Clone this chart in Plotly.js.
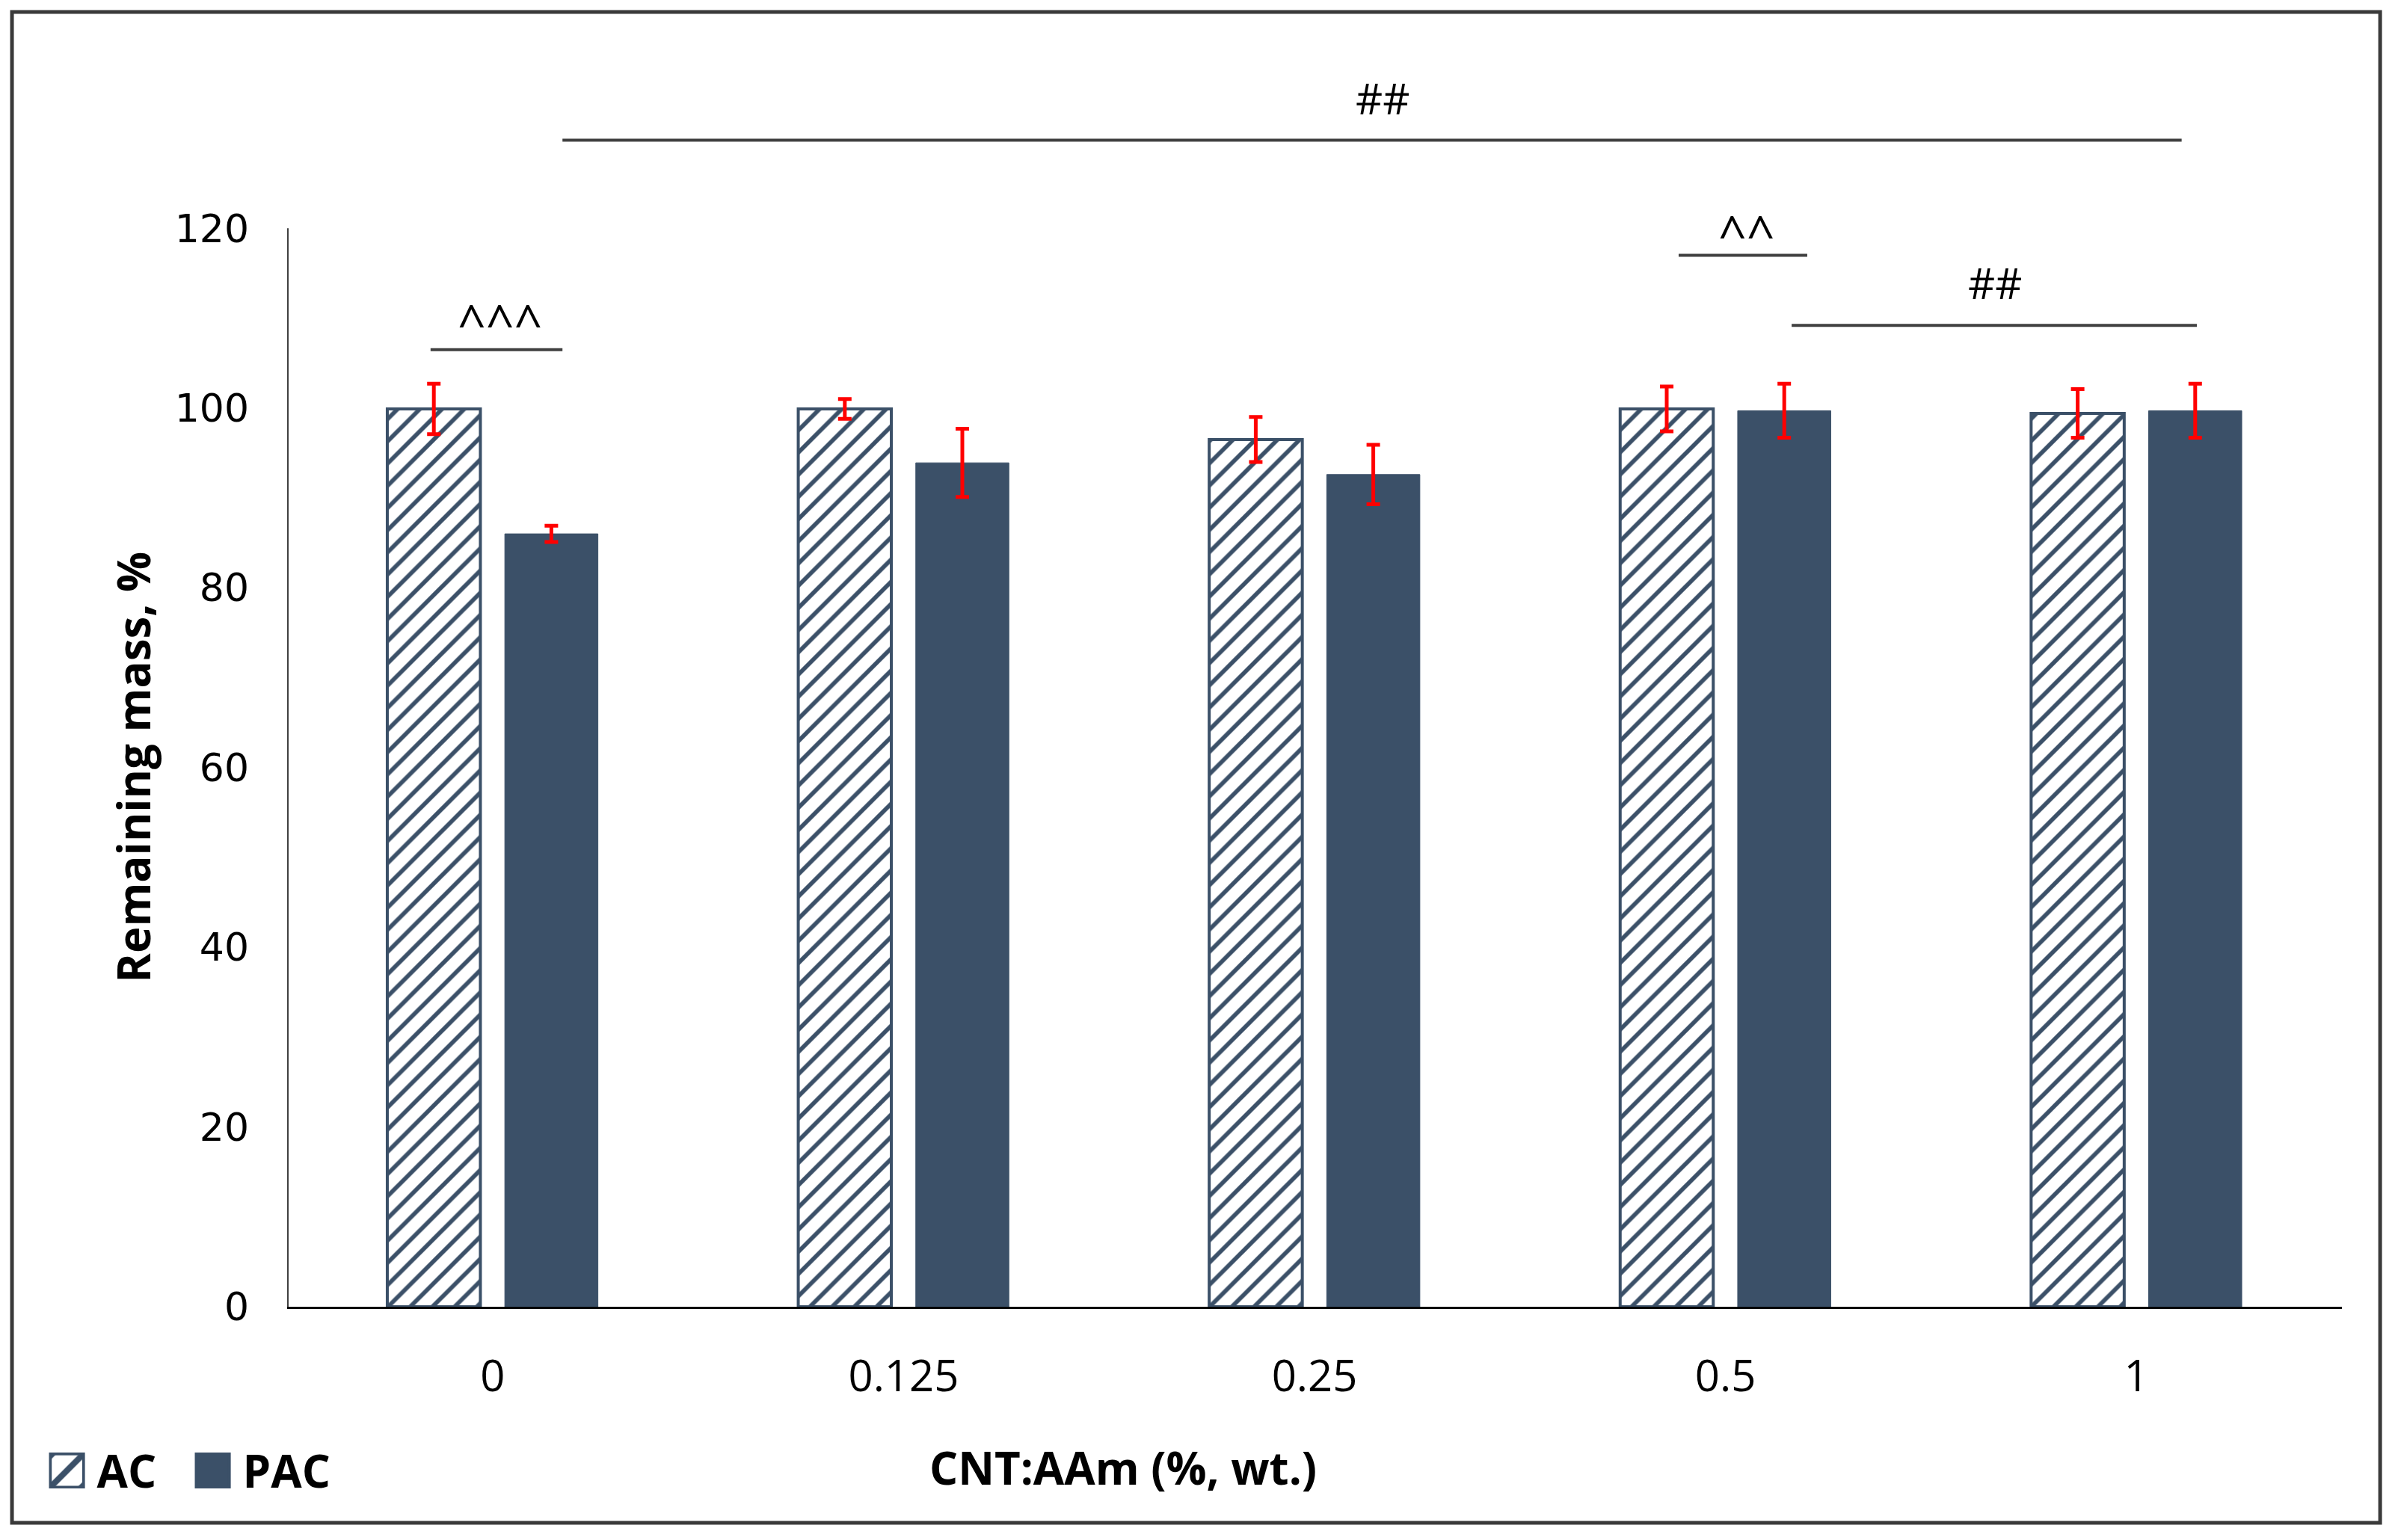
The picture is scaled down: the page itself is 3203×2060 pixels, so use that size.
<!DOCTYPE html>
<html>
<head>
<meta charset="utf-8">
<script src="https://cdn.plot.ly/plotly-3.0.1.min.js"></script>
<style>
html,body{margin:0;padding:0;background:#fff;}
#chart{width:3203px;height:2060px;}
</style>
</head>
<body>
<div id="chart"></div>
<script>
const categories = ['0', '0.125', '0.25', '0.5', '1'];
const acValues  = [99.9, 99.9, 96.5, 99.9, 99.4];
const acErrors  = [2.8, 1.1, 2.5, 2.5, 2.7];
const pacValues = [86.0, 93.9, 92.6, 99.7, 99.7];
const pacErrors = [0.9, 3.8, 3.3, 3.0, 3.0];
const yTicks = [0, 20, 40, 60, 80, 100, 120];
const seriesNames = ['AC', 'PAC'];
const xTitle = 'CNT:AAm (%, wt.)';
const yTitle = 'Remaining mass, %';

const barColor = '#3b5068';
const errColor = '#ff0000';

const traces = [
  {
    type: 'bar', name: seriesNames[0], x: categories, y: acValues,
    marker: {
      color: '#ffffff',
      line: {color: barColor, width: 4},
      pattern: {shape: '/', fgcolor: barColor, bgcolor: '#ffffff', size: 21, solidity: 0.27}
    },
    error_y: {type: 'data', array: acErrors, visible: true, color: errColor, thickness: 5, width: 9}
  },
  {
    type: 'bar', name: seriesNames[1], x: categories, y: pacValues,
    marker: {color: barColor, line: {color: barColor, width: 1}},
    error_y: {type: 'data', array: pacErrors, visible: true, color: errColor, thickness: 5, width: 9}
  }
];

const sigFont = {family: 'Open Sans, sans-serif', size: 56, color: '#000'};
const caretFont = {family: 'Open Sans, sans-serif', size: 66, color: '#000'};
const sigLine = {color: '#404040', width: 4};
const boldFont = {family: 'Open Sans, sans-serif', size: 60, color: '#000', weight: 'bold'};

const layout = {
  width: 3203, height: 2060,
  margin: {l: 384, r: 71, t: 101, b: 312},
  paper_bgcolor: '#ffffff', plot_bgcolor: '#ffffff',
  barmode: 'group', bargap: 0.428, bargroupgap: 0.208,
  showlegend: true,
  legend: {
    orientation: 'h', x: -0.1217, y: -0.133, xanchor: 'left', yanchor: 'middle',
    font: boldFont,
    bgcolor: 'rgba(0,0,0,0)', itemwidth: 70, entrywidth: 110, entrywidthmode: 'pixels', tracegroupgap: 0
  },
  xaxis: {
    type: 'category', range: [-0.5, 4.5], showgrid: false, zeroline: false,
    showline: true, linecolor: '#000000', linewidth: 3, ticks: '',
    tickfont: {family: 'Open Sans, sans-serif', size: 58, color: '#000'},
    ticklabelstandoff: 40, fixedrange: true
  },
  yaxis: {
    range: [0, 137], tickvals: yTicks, ticktext: yTicks.map(String),
    showgrid: false, zeroline: false, showline: false, ticks: '',
    tickfont: {family: 'DejaVu Sans, sans-serif', size: 52, color: '#000'},
    ticklabelstandoff: 50, fixedrange: true
  },
  shapes: [
    {type: 'line', xref: 'x', yref: 'y', x0: -0.5, x1: -0.5, y0: 0, y1: 120, line: {color: '#404040', width: 4}},
    {type: 'line', xref: 'x', yref: 'y', x0: 0.17, x1: 4.11, y0: 129.8, y1: 129.8, line: sigLine},
    {type: 'line', xref: 'x', yref: 'y', x0: -0.151, x1: 0.17, y0: 106.5, y1: 106.5, line: sigLine},
    {type: 'line', xref: 'x', yref: 'y', x0: 2.886, x1: 3.199, y0: 117.0, y1: 117.0, line: sigLine},
    {type: 'line', xref: 'x', yref: 'y', x0: 3.161, x1: 4.147, y0: 109.2, y1: 109.2, line: sigLine},
    {type: 'rect', xref: 'paper', yref: 'paper', x0: -0.1339, x1: 1.0186, y0: -0.1755, y1: 1.0516,
     line: {color: '#3a3a3a', width: 5}, fillcolor: 'rgba(0,0,0,0)', layer: 'below'}
  ],
  annotations: [
    {xref: 'x', yref: 'y', x: 2.166, y: 134.5, text: '##', showarrow: false, font: sigFont},
    {xref: 'x', yref: 'y', x: 0.017, y: 109.6, text: '^^^', showarrow: false, font: caretFont},
    {xref: 'x', yref: 'y', x: 3.05, y: 119.5, text: '^^', showarrow: false, font: caretFont},
    {xref: 'x', yref: 'y', x: 3.656, y: 114.0, text: '##', showarrow: false, font: sigFont},
    {xref: 'paper', yref: 'paper', x: 0.407, y: -0.1307, yanchor: 'middle', text: xTitle, showarrow: false,
     font: boldFont},
    {xref: 'paper', yref: 'paper', x: -0.0906, y: 0.438, text: yTitle, showarrow: false, textangle: -90,
     font: boldFont}
  ]
};

Plotly.newPlot('chart', traces, layout, {displayModeBar: false, staticPlot: true}).then(function (gd) {
  // enlarge the legend swatches to match the reference key size
  gd.querySelectorAll('.legend .legendpoints path').forEach(function (p) {
    const t = p.getAttribute('transform') || '';
    p.setAttribute('transform', t + ' scale(3.7)');
    p.style.strokeWidth = '1px';
  });
});
</script>
</body>
</html>
